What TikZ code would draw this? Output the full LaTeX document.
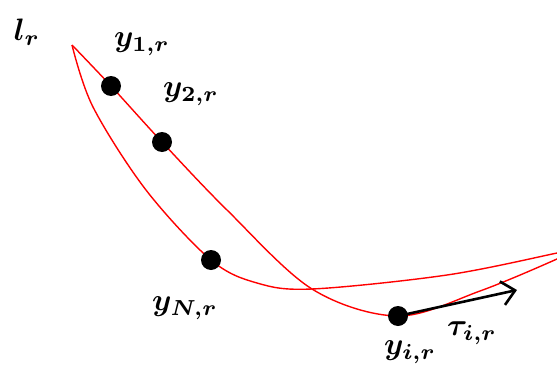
\documentclass[tikz,border=0pt]{standalone}
\usepackage{amsmath}
\usepackage{graphicx}
\usepackage{xcolor}
\usetikzlibrary{arrows.meta}

\newcommand{\lbltext}[1]{\scalebox{3.1}{\boldmath$#1$}}

\begin{document}
\begin{tikzpicture}[x=1pt, y=-1pt,
    curve/.style={red, line width=1.4pt},
    dot/.style={circle, fill=black, inner sep=0pt, minimum size=20pt},
    lbl/.style={inner sep=0pt},
    tang/.style={line width=2.6pt, -{Straight Barb[length=13pt, width=24pt, line width=2.6pt]}}]
        \useasboundingbox (0,0) rectangle (557,367);

        % points on the closed curve
        \coordinate (tip) at (72,45);
        \coordinate (far) at (577,248);
        \coordinate (p1) at (111,86);
        \coordinate (p2) at (162,142);
        \coordinate (pN) at (211,260);
        \coordinate (pi) at (398,316);
        \coordinate (tend) at (517,290);

        \begin{scope}
          \clip (0,0) rectangle (557,367);
          \draw[curve] plot[smooth, tension=0.55] coordinates {(tip) (p1) (p2) (227,210) (312,289) (pi) (480,291) (557,259) (far)};
          \draw[curve] plot[smooth, tension=0.55] coordinates {(tip) (93,107) (146,190) (pN) (257,283) (312,289) (447,275) (557,253) (far)};
        \end{scope}

        \foreach \p in {p1, p2, pN, pi} {
          \node[dot] (d\p) at (\p) {};
        }

        \draw[tang] (dpi.center) -- (tend);

        \node[lbl] (lr) at (27,32) {\lbltext{l_r}};
        \node[lbl] (l1) at (142,44) {\lbltext{y_{1,r}}};
        \node[lbl] (l2) at (191,94) {\lbltext{y_{2,r}}};
        \node[lbl] (lN) at (185,308) {\lbltext{y_{N,r}}};
        \node[lbl] (li) at (410,352) {\lbltext{y_{i,r}}};
        \node[lbl] (lt) at (472,333) {\lbltext{\tau_{i,r}}};
      \end{tikzpicture}
\end{document}
